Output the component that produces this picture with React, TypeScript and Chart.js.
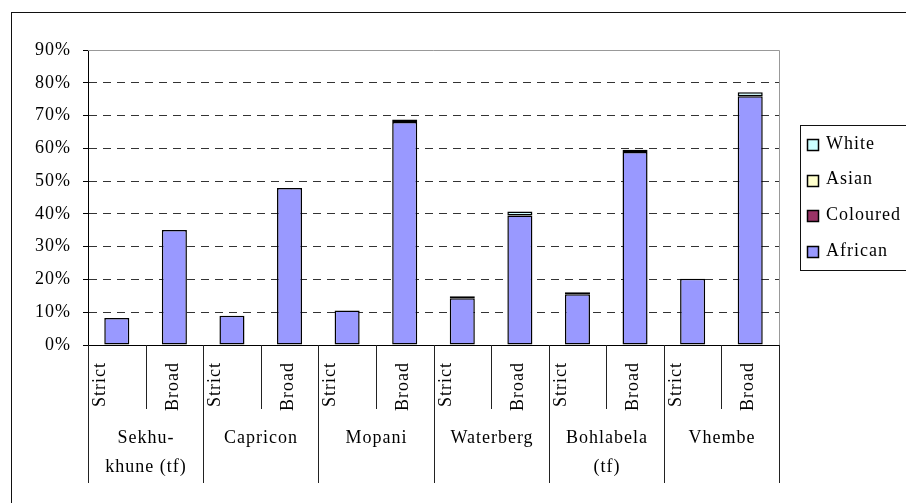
import React, { useEffect, useRef } from 'react';
import { Chart, registerables } from 'chart.js';

Chart.register(...registerables);

const categories = ['Strict', 'Broad', 'Strict', 'Broad', 'Strict', 'Broad', 'Strict', 'Broad', 'Strict', 'Broad', 'Strict', 'Broad'];
const groups = [['Sekhu-', 'khune (tf)'], ['Capricon'], ['Mopani'], ['Waterberg'], ['Bohlabela', '(tf)'], ['Vhembe']];
const yTicks = [0, 10, 20, 30, 40, 50, 60, 70, 80, 90];

const african = [8.2, 35.1, 8.9, 47.9, 10.5, 68.0, 14.3, 39.5, 15.5, 58.9, 20.2, 75.9];
const coloured = [null, null, null, null, null, 0.8, 0.6, null, 0.6, 0.7, null, null];
const asian = [null, null, null, null, null, null, null, null, null, null, null, null];
const white = [null, null, null, null, null, null, null, 1.2, null, null, null, 1.2];

const seriesNames = ['African', 'Coloured', 'Asian', 'White'];
const seriesColors = ['#9999FF', '#993366', '#FFFFCC', '#CCFFFF'];

const FONT = '"Liberation Serif", "Times New Roman", serif';

export default function App() {
  const ref = useRef<HTMLCanvasElement>(null);

  useEffect(() => {
    const canvas = ref.current!;
    const decor = {
      id: 'excelDecor',
      beforeDraw(chart: any) {
        const ctx = chart.ctx;
        ctx.save();
        ctx.fillStyle = '#fff';
        ctx.fillRect(0, 0, chart.width, chart.height);
        ctx.strokeStyle = '#111';
        ctx.lineWidth = 1;
        ctx.strokeRect(11.5, 12.5, 3000, 3000);
        ctx.restore();
        (ctx as any).letterSpacing = '1px';
      },
      afterDraw(chart: any) {
        const ctx = chart.ctx;
        const area = chart.chartArea;
        const xs = chart.scales.x;
        ctx.save();
        // plot top/right border
        ctx.strokeStyle = '#999';
        ctx.lineWidth = 1;
        ctx.beginPath();
        const topY = Math.round(area.top) + 0.5;
        const rightX = Math.round(area.right) + 0.5;
        ctx.moveTo(area.left, topY);
        ctx.lineTo(rightX, topY);
        ctx.lineTo(rightX, area.bottom);
        ctx.stroke();

        // category dividers
        const n = categories.length;
        const bx = (b: number) => Math.round(xs.getPixelForValue(b - 0.5)) + 0.5;
        ctx.strokeStyle = '#222';
        for (let b = 0; b <= n; b++) {
          const x = bx(b);
          ctx.beginPath();
          ctx.moveTo(x, area.bottom);
          ctx.lineTo(x, b % 2 === 0 ? area.bottom + 138 : area.bottom + 64);
          ctx.stroke();
        }

        // rotated sub labels
        ctx.fillStyle = '#000';
        ctx.font = `18px ${FONT}`;
        for (let i = 0; i < n; i++) {
          const cx = i % 2 === 0 ? bx(i) + 12 : xs.getPixelForValue(i) - 1.5;
          ctx.save();
          ctx.translate(cx, area.bottom + 17);
          ctx.rotate(-Math.PI / 2);
          ctx.textAlign = 'right';
          ctx.textBaseline = 'middle';
          ctx.fillText(categories[i], 0, 0);
          ctx.restore();
        }

        // group labels
        ctx.textAlign = 'center';
        ctx.textBaseline = 'middle';
        groups.forEach((lines, g) => {
          const cx = (bx(2 * g) + bx(2 * g + 2)) / 2;
          lines.forEach((t, li) => {
            ctx.fillText(t, cx, area.bottom + 93 + li * 29);
          });
        });

        // legend
        ctx.strokeStyle = '#111';
        ctx.strokeRect(800.5, 125.5, 300, 145);
        ctx.textAlign = 'left';
        const ds = chart.data.datasets;
        for (let k = 0; k < ds.length; k++) {
          const d = ds[ds.length - 1 - k];
          const yc = 144 + k * 35.6;
          ctx.fillStyle = d.backgroundColor;
          ctx.fillRect(807.5, Math.round(yc - 5) + 0.5, 11, 11);
          ctx.strokeStyle = '#000';
          ctx.lineWidth = 1.5;
          ctx.strokeRect(807.5, Math.round(yc - 5) + 0.5, 11, 11);
          ctx.lineWidth = 1;
          ctx.fillStyle = '#000';
          ctx.fillText(d.label, 826, yc);
        }
        ctx.restore();
      },
    };

    const seriesData = [african, coloured, asian, white];
    const chart = new Chart(canvas, {
      type: 'bar',
      data: {
        labels: categories,
        datasets: seriesNames.map((name, i) => ({
          label: name,
          data: seriesData[i] as any,
          backgroundColor: seriesColors[i],
          borderColor: '#000',
          borderWidth: 1.5,
          borderSkipped: false,
          categoryPercentage: 1,
          barPercentage: 0.435,
        })),
      },
      options: {
        responsive: false,
        animation: false,
        devicePixelRatio: 1,
        layout: { padding: { top: 50, right: 127, left: 0, bottom: 0 } },
        plugins: { legend: { display: false }, tooltip: { enabled: false } },
        scales: {
          x: {
            stacked: true,
            grid: { display: false },
            ticks: { display: false },
            border: { display: true, color: '#000', width: 1 },
            afterFit(s: any) {
              s.height = 158;
            },
          },
          y: {
            stacked: true,
            min: 0,
            max: 90,
            afterBuildTicks(s: any) {
              s.ticks = yTicks.map((v) => ({ value: v }));
            },
            ticks: {
              callback: (v: any) => `${v}%`,
              color: '#000',
              font: { family: FONT, size: 18 },
              padding: 12,
            },
            grid: {
              color: (c: any) => (c.tick && (c.tick.value === 0 || c.tick.value === 90) ? 'rgba(0,0,0,0)' : '#333'),
              tickColor: '#000',
              tickLength: 5,
              lineWidth: 1,
            },
            border: { display: true, color: '#000', width: 1, dash: [8, 6] },
            afterFit(s: any) {
              s.width = 88;
            },
          },
        },
      },
      plugins: [decor],
    } as any);
    return () => chart.destroy();
  }, []);

  return (
    <div style={{ position: 'fixed', left: 0, top: 0, width: 906, height: 503 }}>
      <canvas ref={ref} width={906} height={503} style={{ display: 'block', width: 906, height: 503 }} />
    </div>
  );
}
